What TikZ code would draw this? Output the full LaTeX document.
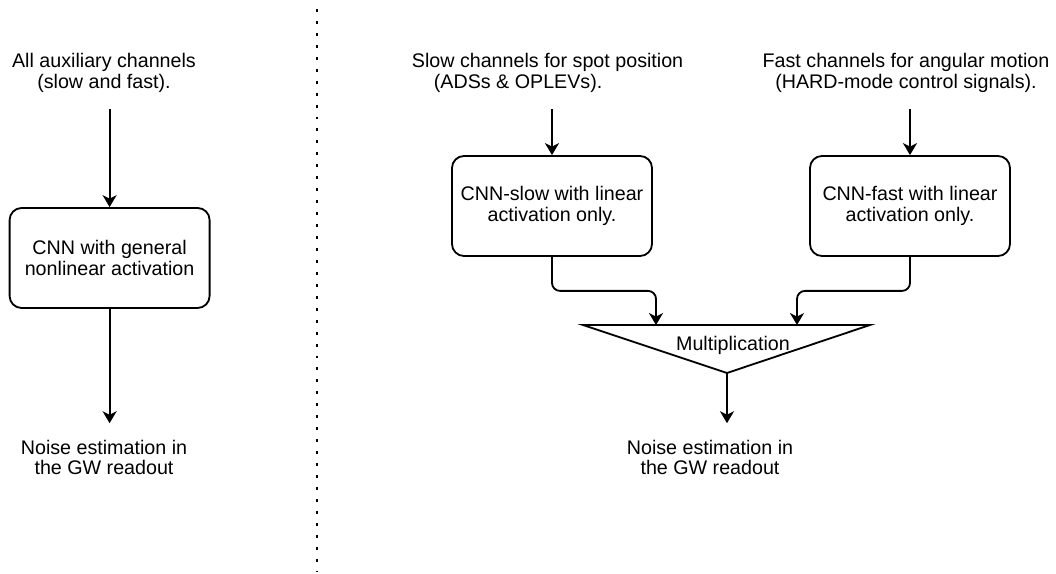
\documentclass[tikz,border=0pt]{standalone}
\usepackage{fontspec}
\setmainfont{Liberation Sans}
\usetikzlibrary{arrows.meta}

\begin{document}
\begin{tikzpicture}[
	font=\fontsize{14}{14.6}\selectfont,
	line width=1.3pt,
	>={Stealth[length=8.5pt,width=10pt,inset=2.5pt]},
	blocco/.style={draw, rounded corners=0.3cm, minimum width=5cm, minimum height=2.5cm, align=center, inner sep=0pt},
	testo/.style={align=center, inner xsep=0pt, inner ysep=0.4cm},
	freccia/.style={->, rounded corners=0.2cm},
	separatore/.style={line width=2.1pt, dash pattern=on 2.1pt off 6.4pt}]
	\useasboundingbox (0,0) rectangle (26.4,14.35);

	%Colonna di sinistra
	\node[testo] (tuttiIn) at (2.6,12.525) {All auxiliary channels\\(slow and fast).};
	\node[blocco] (cnn) at (2.74,7.9) {CNN with general\\nonlinear activation};
	\node[testo] (tuttiOut) at (2.6,2.91) {Noise estimation in\\the GW readout};
	\draw[freccia] (tuttiIn.south -| cnn.north) -- (cnn.north);
	\draw[freccia] (cnn.south) -- (tuttiOut.north -| cnn.south);

	%Linea di separazione
	\draw[separatore] (7.925,14.125) -- (7.925,0.075);

	%Ramo lento e ramo veloce
	\node[testo, align=left, anchor=west] (lentoIn) at (10.275,12.525) {Slow channels for spot position\\\hspace*{0.55cm}(ADSs \& OPLEVs).};
	\node[testo] (veloceIn) at (22.65,12.525) {Fast channels for angular motion\\(HARD-mode control signals).};
	\node[blocco] (lento) at (13.8,9.2) {CNN-slow with linear\\activation only.};
	\node[blocco] (veloce) at (22.75,9.2) {CNN-fast with linear\\activation only.};
	\draw[freccia] (lentoIn.south -| lento.north) -- (lento.north);
	\draw[freccia] (veloceIn.south -| veloce.north) -- (veloce.north);

	%Moltiplicazione
	\coordinate (molL) at (14.575,6.225);
	\coordinate (molR) at (21.75,6.225);
	\coordinate (molB) at (18.175,5.025);
	\coordinate (inS) at (16.4,6.225);
	\coordinate (inF) at (19.925,6.225);
	\draw[line join=miter] (molL) -- (molR) -- (molB) -- cycle;
	\node (mol) at (18.325,5.725) {Multiplication};
	\draw[freccia] (lento.south) -- ++(0,-0.85) -| (inS);
	\draw[freccia] (veloce.south) -- ++(0,-0.85) -| (inF);

	\node[testo] (destraOut) at (17.75,2.91) {Noise estimation in\\the GW readout};
	\draw[freccia] (molB) -- (destraOut.north -| molB);
\end{tikzpicture}
\end{document}
